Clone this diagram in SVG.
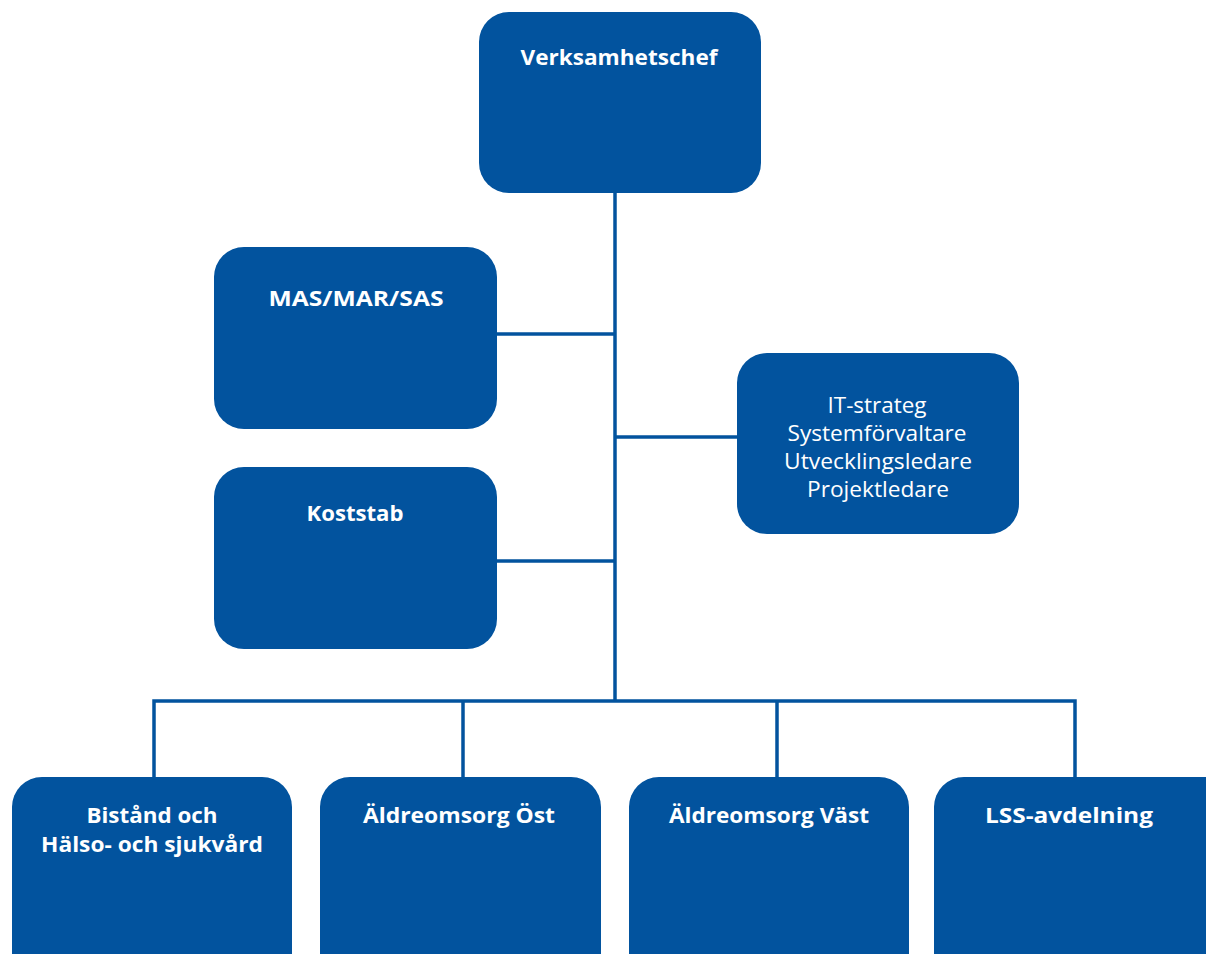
<svg xmlns="http://www.w3.org/2000/svg" width="1206" height="954" viewBox="0 0 1206 954">
<style>
.box{fill:#02539E}
.t{fill:#ffffff;font-family:"Open Sans","Liberation Sans",sans-serif;text-anchor:middle}
.b{font-weight:bold;font-size:22px}
.r{font-size:22px}
.ln{stroke:#02539E;stroke-width:3.5;fill:none}
</style>
<rect width="1206" height="954" fill="#ffffff"/>
<g id="connectors">
<line class="ln" x1="615" y1="192" x2="615" y2="701"/>
<line class="ln" x1="496" y1="334" x2="615" y2="334"/>
<line class="ln" x1="615" y1="437" x2="738" y2="437"/>
<line class="ln" x1="496" y1="561" x2="615" y2="561"/>
<polyline class="ln" points="154,778 154,701 1075,701 1075,778"/>
<line class="ln" x1="463" y1="701" x2="463" y2="778"/>
<line class="ln" x1="777" y1="701" x2="777" y2="778"/>
</g>
<g id="verksamhetschef">
<rect class="box" x="479" y="12" width="282" height="181" rx="30"/>
<text class="t b" x="619" y="65" textLength="197" lengthAdjust="spacingAndGlyphs">Verksamhetschef</text>
</g>
<g id="mas">
<rect class="box" x="214" y="247" width="283" height="182" rx="30"/>
<text class="t b" x="356" y="306" textLength="175" lengthAdjust="spacingAndGlyphs">MAS/MAR/SAS</text>
</g>
<g id="koststab">
<rect class="box" x="214" y="467" width="283" height="182" rx="30"/>
<text class="t b" x="355" y="521" textLength="97" lengthAdjust="spacingAndGlyphs">Koststab</text>
</g>
<g id="it">
<rect class="box" x="737" y="353" width="282" height="181" rx="30"/>
<text class="t r" x="877" y="413" textLength="99" lengthAdjust="spacingAndGlyphs">IT-strateg</text>
<text class="t r" x="877" y="441" textLength="179" lengthAdjust="spacingAndGlyphs">Systemförvaltare</text>
<text class="t r" x="878" y="469" textLength="188" lengthAdjust="spacingAndGlyphs">Utvecklingsledare</text>
<text class="t r" x="878" y="497" textLength="142" lengthAdjust="spacingAndGlyphs">Projektledare</text>
</g>
<g id="bistand">
<rect class="box" x="12" y="777" width="280" height="210" rx="30"/>
<text class="t b" x="152" y="823" textLength="131" lengthAdjust="spacingAndGlyphs">Bistånd och</text>
<text class="t b" x="152" y="852" textLength="222" lengthAdjust="spacingAndGlyphs">Hälso- och sjukvård</text>
</g>
<g id="ost">
<rect class="box" x="320" y="777" width="281" height="210" rx="30"/>
<text class="t b" x="459" y="823" textLength="192" lengthAdjust="spacingAndGlyphs">Äldreomsorg Öst</text>
</g>
<g id="vast">
<rect class="box" x="629" y="777" width="280" height="210" rx="30"/>
<text class="t b" x="769" y="823" textLength="200" lengthAdjust="spacingAndGlyphs">Äldreomsorg Väst</text>
</g>
<g id="lss">
<rect class="box" x="934" y="777" width="300" height="210" rx="30"/>
<text class="t b" x="1069" y="823" textLength="168" lengthAdjust="spacingAndGlyphs">LSS-avdelning</text>
</g>
</svg>
